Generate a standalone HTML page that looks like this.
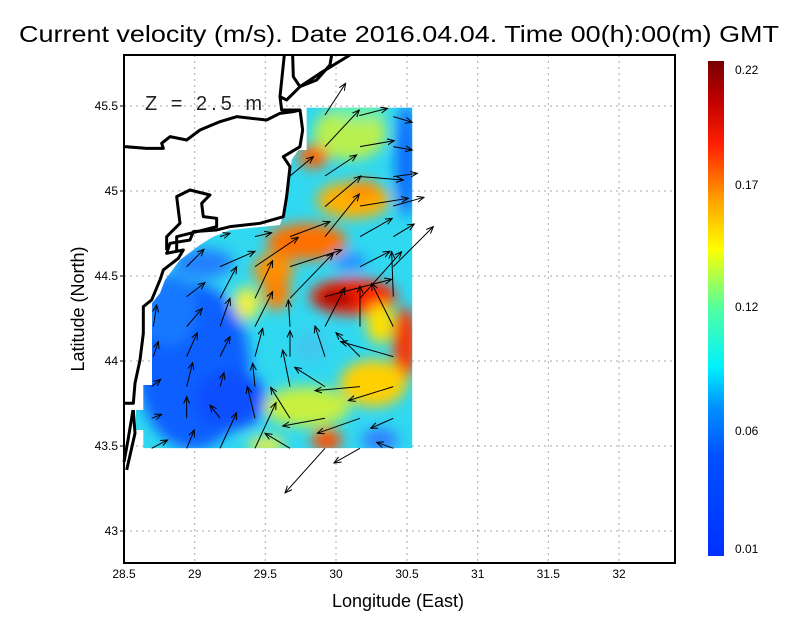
<!DOCTYPE html>
<html><head><meta charset="utf-8"><style>html,body{margin:0;padding:0;background:#fff}svg{display:block}</style></head><body>
<svg width="800" height="618" xmlns="http://www.w3.org/2000/svg" font-family="Liberation Sans, DejaVu Sans, sans-serif">
<defs>
<linearGradient id="cb" x1="0" y1="1" x2="0" y2="0">
<stop offset="0" stop-color="#0030ff"/><stop offset="0.2" stop-color="#0050ff"/><stop offset="0.3" stop-color="#0090ff"/><stop offset="0.38" stop-color="#00f0ff"/><stop offset="0.5" stop-color="#50ffa0"/><stop offset="0.62" stop-color="#ffff00"/><stop offset="0.72" stop-color="#ffa000"/><stop offset="0.83" stop-color="#ff2000"/><stop offset="0.92" stop-color="#c00000"/><stop offset="1" stop-color="#780000"/>
</linearGradient>
<filter id="bl" x="-20%" y="-20%" width="140%" height="140%"><feGaussianBlur stdDeviation="20"/></filter>
<clipPath id="dc"><polygon points="560,173 877,173 877,1195 70,1195 70,1140 48,1140 48,1080 70,1080 70,1005 96,1005 96,760 120,730 135,690 180,630 240,585 280,560 330,540 480,525 500,460 515,330 535,300 560,300"/></clipPath>
<marker id="ah" markerWidth="8" markerHeight="8" refX="7" refY="4" orient="auto" markerUnits="strokeWidth"><path d="M0,1 L7,4 L0,7" fill="none" stroke="#000" stroke-width="1"/></marker>
</defs>
<g stroke="#aaa" stroke-width="1" stroke-dasharray="2,4">
<line x1="194.7" y1="55" x2="194.7" y2="563"/><line x1="265.3" y1="55" x2="265.3" y2="563"/><line x1="336" y1="55" x2="336" y2="563"/><line x1="407" y1="55" x2="407" y2="563"/><line x1="477.7" y1="55" x2="477.7" y2="563"/><line x1="548.3" y1="55" x2="548.3" y2="563"/><line x1="619" y1="55" x2="619" y2="563"/>
<line x1="124" y1="106" x2="675" y2="106"/><line x1="124" y1="191" x2="675" y2="191"/><line x1="124" y1="276" x2="675" y2="276"/><line x1="124" y1="361" x2="675" y2="361"/><line x1="124" y1="446" x2="675" y2="446"/><line x1="124" y1="531" x2="675" y2="531"/>
</g>
<g transform="translate(120,50) scale(0.3333)">
<g clip-path="url(#dc)">
<rect x="0" y="150" width="900" height="1060" fill="#30d8f0"/>
<g filter="url(#bl)">
<ellipse cx="220" cy="950" rx="170" ry="250" fill="#1060ff"/>
<ellipse cx="330" cy="1050" rx="110" ry="90" fill="#0850ff"/>
<ellipse cx="150" cy="780" rx="80" ry="110" fill="#1878ff"/>
<ellipse cx="250" cy="640" rx="90" ry="45" fill="#2080ff"/>
<ellipse cx="860" cy="330" rx="35" ry="170" fill="#1070ff"/>
<ellipse cx="690" cy="250" rx="110" ry="80" fill="#b8f050"/>
<ellipse cx="720" cy="180" rx="80" ry="30" fill="#60f0b0"/>
<ellipse cx="580" cy="320" rx="45" ry="35" fill="#ff6000"/>
<ellipse cx="700" cy="450" rx="110" ry="55" fill="#ffb000"/>
<ellipse cx="730" cy="420" rx="50" ry="30" fill="#ff9000"/>
<ellipse cx="560" cy="575" rx="120" ry="55" fill="#ff7000"/>
<ellipse cx="460" cy="660" rx="60" ry="50" fill="#ff9000"/>
<ellipse cx="470" cy="730" rx="40" ry="50" fill="#ff8000"/>
<ellipse cx="380" cy="760" rx="40" ry="50" fill="#f0f040"/>
<ellipse cx="690" cy="635" rx="50" ry="28" fill="#2090ff"/>
<ellipse cx="700" cy="740" rx="130" ry="55" fill="#ff2000"/>
<ellipse cx="650" cy="745" rx="60" ry="26" fill="#a00000"/>
<ellipse cx="780" cy="820" rx="40" ry="60" fill="#ffe000"/>
<ellipse cx="855" cy="880" rx="35" ry="110" fill="#ff3000"/>
<ellipse cx="760" cy="1000" rx="100" ry="70" fill="#ffd000"/>
<ellipse cx="560" cy="1070" rx="130" ry="60" fill="#c8f040"/>
<ellipse cx="620" cy="1170" rx="45" ry="35" fill="#ff5000"/>
<ellipse cx="780" cy="1170" rx="55" ry="35" fill="#3080ff"/>
<ellipse cx="440" cy="1185" rx="55" ry="25" fill="#f0f040"/>
<ellipse cx="570" cy="890" rx="50" ry="50" fill="#40c8f0"/>
</g>
</g>
<g fill="none" stroke="#000" stroke-width="9" stroke-linejoin="round">
<polyline points="15,290 80,295 130,295 125,280 150,260 200,270 240,240 300,215 350,200 440,210 480,190 520,185 540,180 548,240 540,290 490,320 510,350 500,440 490,500 420,520 330,530 290,540 220,545 210,570 150,580 140,610 190,600 175,625 130,660 120,690 95,750 70,770 70,850 60,930 45,1000 40,1060 15,1060"/>
<polyline points="40,1080 45,1150 20,1260"/>
<polyline points="170,600 170,560 230,545 290,530 290,505 250,500 245,460 270,435 210,420 170,440 180,520 140,560 140,600"/>
<polyline points="493,15 480,140 500,150 540,110 600,70 690,15"/>
<polyline points="518,15 520,80 540,110 590,90 630,45 635,15"/>
<polyline points="480,140 485,180 540,180"/>
</g>
<g stroke="#000" stroke-width="3" fill="none" marker-end="url(#ah)">
<line x1="615" y1="195" x2="677" y2="100"/><line x1="615" y1="290" x2="718" y2="180"/><line x1="718" y1="197" x2="803" y2="175"/><line x1="820" y1="200" x2="877" y2="217"/><line x1="720" y1="290" x2="823" y2="272"/><line x1="820" y1="290" x2="877" y2="300"/><line x1="615" y1="378" x2="710" y2="315"/><line x1="510" y1="378" x2="580" y2="320"/><line x1="615" y1="470" x2="723" y2="378"/><line x1="723" y1="380" x2="850" y2="390"/><line x1="820" y1="380" x2="892" y2="370"/><line x1="720" y1="468" x2="865" y2="445"/><line x1="820" y1="468" x2="912" y2="442"/><line x1="615" y1="560" x2="718" y2="432"/><line x1="510" y1="560" x2="630" y2="515"/><line x1="720" y1="560" x2="817" y2="505"/><line x1="820" y1="560" x2="883" y2="522"/><line x1="820" y1="650" x2="940" y2="530"/><line x1="405" y1="560" x2="455" y2="548"/><line x1="300" y1="560" x2="330" y2="550"/><line x1="405" y1="650" x2="535" y2="562"/><line x1="300" y1="650" x2="405" y2="604"/><line x1="200" y1="650" x2="252" y2="598"/><line x1="510" y1="650" x2="665" y2="600"/><line x1="720" y1="650" x2="810" y2="604"/><line x1="510" y1="745" x2="640" y2="610"/><line x1="405" y1="745" x2="458" y2="632"/><line x1="300" y1="745" x2="350" y2="650"/><line x1="200" y1="740" x2="255" y2="698"/><line x1="615" y1="740" x2="815" y2="688"/><line x1="615" y1="830" x2="675" y2="713"/><line x1="720" y1="830" x2="720" y2="708"/><line x1="820" y1="830" x2="755" y2="700"/><line x1="820" y1="740" x2="815" y2="605"/><line x1="720" y1="745" x2="845" y2="605"/><line x1="510" y1="830" x2="505" y2="750"/><line x1="405" y1="830" x2="458" y2="725"/><line x1="300" y1="830" x2="330" y2="745"/><line x1="200" y1="830" x2="247" y2="775"/><line x1="100" y1="830" x2="110" y2="765"/><line x1="100" y1="920" x2="115" y2="875"/><line x1="200" y1="920" x2="232" y2="848"/><line x1="300" y1="920" x2="330" y2="860"/><line x1="405" y1="920" x2="428" y2="835"/><line x1="510" y1="920" x2="510" y2="842"/><line x1="615" y1="920" x2="585" y2="828"/><line x1="720" y1="920" x2="648" y2="848"/><line x1="820" y1="920" x2="662" y2="875"/><line x1="820" y1="1010" x2="685" y2="1052"/><line x1="720" y1="1010" x2="585" y2="1022"/><line x1="615" y1="1010" x2="524" y2="952"/><line x1="510" y1="1010" x2="488" y2="900"/><line x1="405" y1="1010" x2="398" y2="940"/><line x1="300" y1="1010" x2="312" y2="968"/><line x1="200" y1="1010" x2="218" y2="938"/><line x1="95" y1="1010" x2="122" y2="988"/><line x1="95" y1="1105" x2="125" y2="1093"/><line x1="200" y1="1105" x2="200" y2="1040"/><line x1="300" y1="1105" x2="270" y2="1065"/><line x1="405" y1="1105" x2="382" y2="1010"/><line x1="510" y1="1105" x2="452" y2="1012"/><line x1="615" y1="1105" x2="488" y2="1128"/><line x1="720" y1="1105" x2="592" y2="1150"/><line x1="820" y1="1105" x2="752" y2="1135"/><line x1="95" y1="1195" x2="143" y2="1170"/><line x1="200" y1="1195" x2="223" y2="1140"/><line x1="300" y1="1195" x2="350" y2="1088"/><line x1="405" y1="1195" x2="468" y2="1058"/><line x1="510" y1="1195" x2="435" y2="1150"/><line x1="615" y1="1195" x2="495" y2="1329"/><line x1="720" y1="1195" x2="642" y2="1239"/><line x1="820" y1="1195" x2="770" y2="1177"/>
</g>
</g>
<polyline points="133,410 128,440 124,462" fill="none" stroke="#000" stroke-width="3"/>
<rect x="124" y="55" width="551" height="508" fill="none" stroke="#000" stroke-width="2"/>
<text x="145" y="110" font-size="20" fill="#222" letter-spacing="4">Z = 2.5 m</text>
<g font-size="12" fill="#000" text-anchor="middle">
<text x="124" y="578">28.5</text><text x="194.7" y="578">29</text><text x="265.3" y="578">29.5</text><text x="336" y="578">30</text><text x="407" y="578">30.5</text><text x="477.7" y="578">31</text><text x="548.3" y="578">31.5</text><text x="619" y="578">32</text>
</g>
<g font-size="12" fill="#000" text-anchor="end">
<text x="118" y="110">45.5</text><text x="118" y="195">45</text><text x="118" y="280">44.5</text><text x="118" y="365">44</text><text x="118" y="450">43.5</text><text x="118" y="535">43</text>
</g>
<g stroke="#000"><line x1="120" y1="106" x2="124" y2="106"/><line x1="120" y1="191" x2="124" y2="191"/><line x1="120" y1="276" x2="124" y2="276"/><line x1="120" y1="361" x2="124" y2="361"/><line x1="120" y1="446" x2="124" y2="446"/><line x1="120" y1="531" x2="124" y2="531"/></g>
<text x="399" y="42" font-size="23" text-anchor="middle" textLength="760" lengthAdjust="spacingAndGlyphs">Current velocity (m/s). Date 2016.04.04. Time 00(h):00(m) GMT</text>
<text x="398" y="607" font-size="18" text-anchor="middle">Longitude (East)</text>
<text transform="translate(84,309) rotate(-90)" font-size="18" text-anchor="middle">Latitude (North)</text>
<rect x="708" y="61" width="16" height="495" fill="url(#cb)"/>
<g font-size="12" fill="#000"><text x="735" y="74">0.22</text><text x="735" y="189">0.17</text><text x="735" y="311">0.12</text><text x="735" y="435">0.06</text><text x="735" y="553">0.01</text></g>
</svg>
</body></html>
